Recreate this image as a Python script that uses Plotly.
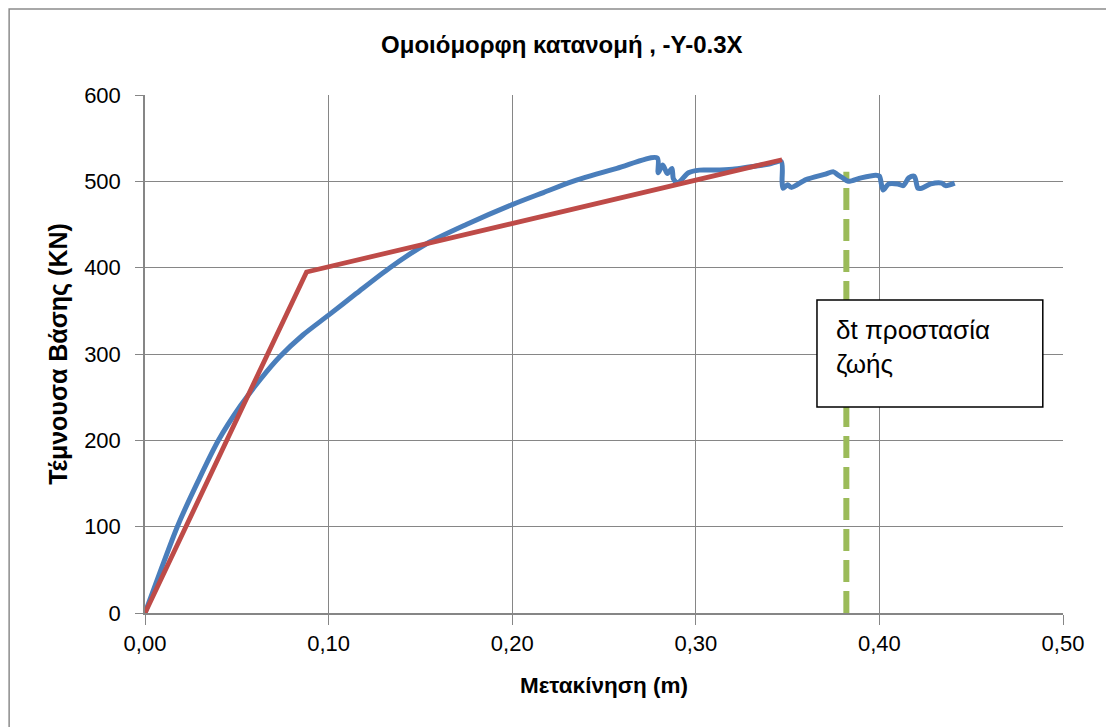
import plotly.graph_objects as go

# Pushover curve (displacement in m, base shear in kN)
disp = [0, 0.009, 0.018, 0.029, 0.040, 0.052, 0.063, 0.0735, 0.086, 0.100,
        0.115, 0.1334, 0.1536, 0.175, 0.200, 0.217, 0.233, 0.257, 0.279,
        0.2795, 0.282, 0.2845, 0.287, 0.2878, 0.290, 0.296, 0.302, 0.310,
        0.320, 0.330, 0.340, 0.3465, 0.347, 0.3475, 0.350, 0.352, 0.360,
        0.370, 0.375, 0.377, 0.380, 0.383, 0.390, 0.398, 0.400, 0.402,
        0.405, 0.410, 0.413, 0.416, 0.419, 0.421, 0.423, 0.428, 0.434,
        0.436, 0.441]
shear = [0, 52, 102, 153, 200, 240, 271, 297, 322, 345,
         370, 400, 428, 450, 473, 487, 500, 515, 527,
         510, 519, 509, 515, 503, 498, 510, 513, 513,
         514, 517, 520, 523, 500, 492, 496, 493, 502,
         508, 511, 508, 504, 500, 504, 507, 506, 490,
         497, 497, 495, 504, 506, 492, 492, 497, 498,
         495, 498]

# Bilinear idealisation
bilin_disp = [0, 0.088, 0.347]
bilin_shear = [0, 395, 525]

# Target displacement (life safety)
dt_disp = [0.382, 0.382]
dt_shear = [0, 511]

x_ticks = [0, 0.1, 0.2, 0.3, 0.4, 0.5]
y_ticks = [0, 100, 200, 300, 400, 500, 600]

BLUE = "#4A7EBB"
RED = "#BE4B48"
GREEN = "#9BBB59"
GRID = "#868686"
FONT = "Liberation Sans"

fig = go.Figure()
fig.add_trace(go.Scatter(x=dt_disp, y=dt_shear, mode="lines",
                         line=dict(color=GREEN, width=6, dash="22px,9px"),
                         hoverinfo="skip", showlegend=False))
fig.add_trace(go.Scatter(x=disp, y=shear, mode="lines",
                         line=dict(color=BLUE, width=5, shape="spline",
                                   smoothing=0.8),
                         showlegend=False))
fig.add_trace(go.Scatter(x=bilin_disp, y=bilin_shear, mode="lines",
                         line=dict(color=RED, width=4.8),
                         showlegend=False))

# Label box for the target displacement
fig.add_shape(type="rect", xref="x", yref="y",
              x0=0.366, x1=0.489, y0=238.6, y1=362.6,
              line=dict(color="black", width=1.5), fillcolor="white",
              layer="above")
fig.add_annotation(x=0.3755, y=347, xref="x", yref="y",
                   text="δt προστασία<br>ζωής", showarrow=False,
                   xanchor="left", yanchor="top", align="left",
                   font=dict(family=FONT, size=26, color="black"))

# Chart-area border
fig.add_shape(type="rect", xref="paper", yref="paper",
              x0=-0.148, x1=1.06, y0=-0.25, y1=1.166,
              line=dict(color="#8C8C8C", width=1.5), layer="below")

fig.update_layout(
    width=1106, height=727,
    margin=dict(l=145, r=43, t=95, b=114),
    paper_bgcolor="white", plot_bgcolor="white",
    separators=",.",
    font=dict(family=FONT, color="black"),
    title=dict(text="<b>Ομοιόμορφη κατανομή , -Y-0.3X</b>",
               x=0.508, xref="container", y=1 - 45 / 727, yref="container",
               xanchor="center", yanchor="middle",
               font=dict(family=FONT, size=24, color="black")),
    xaxis=dict(range=[0, 0.5], tickvals=x_ticks, tickformat=".2f",
               showgrid=True, gridcolor=GRID, gridwidth=1,
               showline=True, linecolor=GRID, linewidth=1.5,
               ticks="outside", ticklen=10, tickcolor=GRID,
               tickfont=dict(family=FONT, size=22),
               zeroline=False,
               title=dict(text="<b>Μετακίνηση (m)</b>", standoff=22,
                          font=dict(family=FONT, size=22.5))),
    yaxis=dict(range=[0, 600], tickvals=y_ticks, tickformat="d",
               showgrid=True, gridcolor=GRID, gridwidth=1,
               showline=True, linecolor=GRID, linewidth=1.5,
               ticks="outside", ticklen=8, tickcolor=GRID,
               tickfont=dict(family=FONT, size=22),
               ticklabelstandoff=10,
               zeroline=False,
               title=dict(text="<b>Τέμνουσα Βάσης (KN)</b>", standoff=9,
                          font=dict(family=FONT, size=25))),
)

fig.write_html("out.html")
